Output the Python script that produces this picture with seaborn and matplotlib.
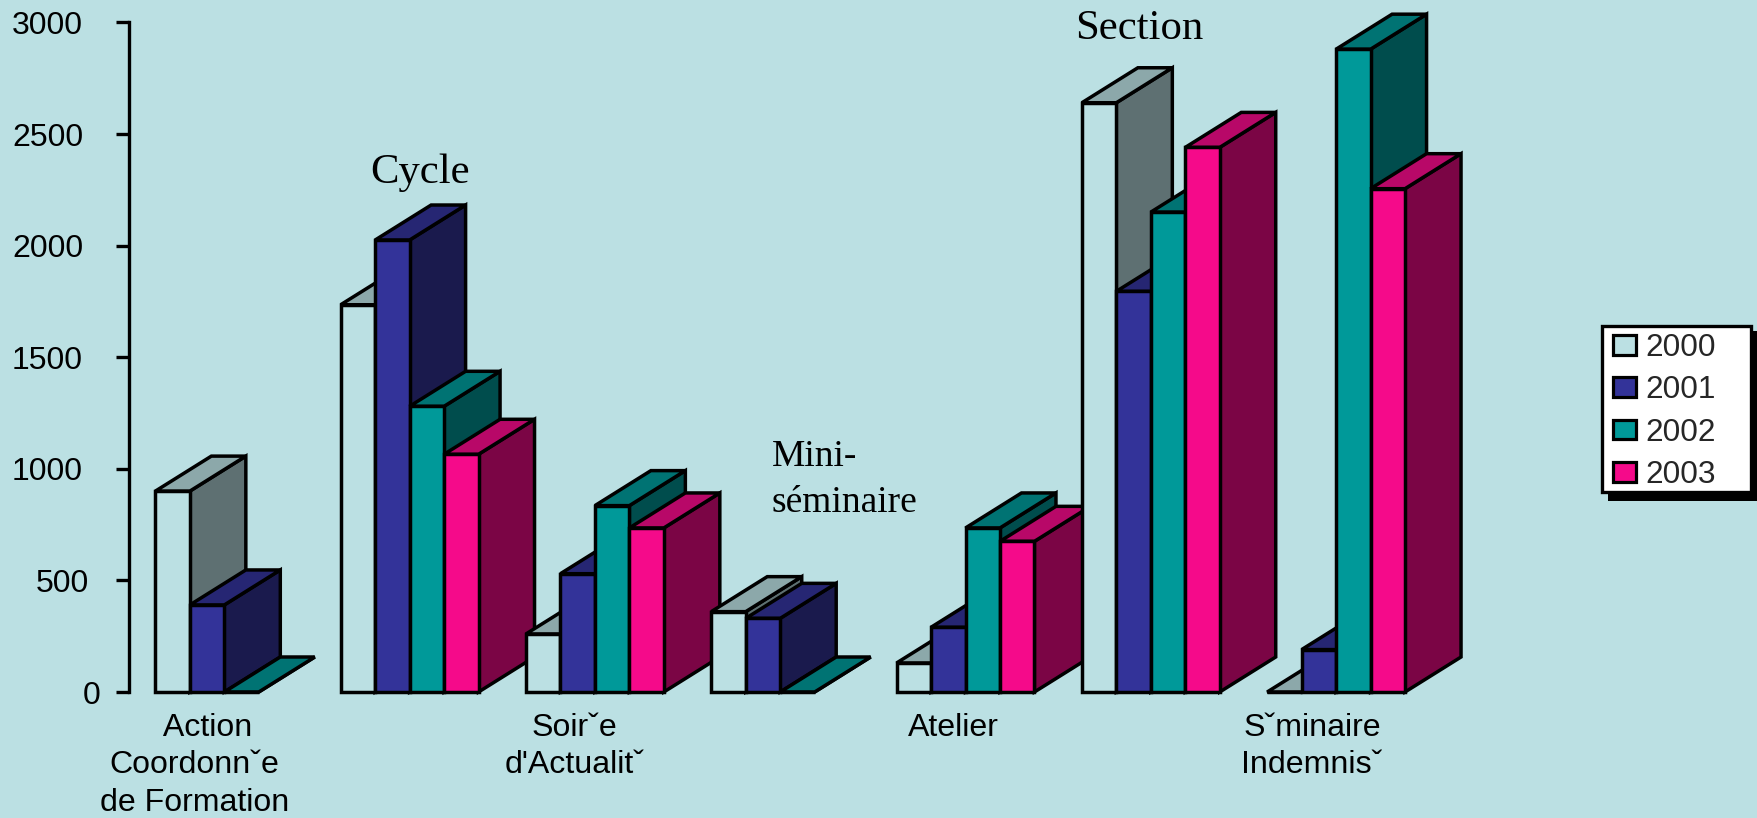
import matplotlib
matplotlib.use("Agg")
import matplotlib.pyplot as plt
import seaborn as sns
import numpy as np
import pandas as pd
from matplotlib.colors import to_rgb
from matplotlib.patches import Polygon, Patch, Rectangle

categories = ["Action Coordonnˇe de Formation", "Cycle", "Soirˇe d'Actualitˇ",
              "Mini-séminaire", "Atelier", "Section", "Sˇminaire Indemnisˇ"]
years = ["2000", "2001", "2002", "2003"]
v2000 = [900, 1735, 260, 360, 130, 2640, 0]
v2001 = [390, 2025, 530, 330, 290, 1795, 190]
v2002 = [0, 1280, 835, 0, 735, 2150, 2880]
v2003 = [np.nan, 1065, 735, np.nan, 675, 2440, 2255]
colors = ["#BBE0E3", "#333399", "#009999", "#F50A8A"]
shown_labels = [0, 2, 4, 6]
shown_text = ["   Action\nCoordonnˇe\nde Formation", "Soirˇe\nd'Actualitˇ",
              "Atelier", "Sˇminaire\nIndemnisˇ"]
label_shift_px = [-29.5, -20.5, -12.0, -24.0]

W, H = 1757, 818
BG = "#BBE0E3"
AX_L, AX_T, AX_B = 128.5, 22.4, 692
PITCH = 185.3
FIRST_CENTER = 224.3
DEPTH_X, DEPTH_Y = 56.0, 35.0
LW = 2.5

sns.set_theme(style="white")
plt.rcParams["font.family"] = ["Liberation Sans", "DejaVu Sans"]

df = pd.DataFrame({"category": categories, "2000": v2000, "2001": v2001,
                   "2002": v2002, "2003": v2003}).melt(
    id_vars="category", var_name="year", value_name="value")

fig = plt.figure(figsize=(W / 100, H / 100), dpi=100, facecolor=BG)
ax_w = 7 * PITCH
ax = fig.add_axes([AX_L / W, 1 - AX_B / H, ax_w / W, (AX_B - AX_T) / H])
ax.set_facecolor("none")

sns.barplot(data=df, x="category", y="value", hue="year", order=categories,
            hue_order=years, palette=colors, saturation=1, width=0.744,
            gap=0, dodge=True, edgecolor="black", linewidth=LW, ax=ax,
            legend=False)

x_left = (AX_L - FIRST_CENTER) / PITCH
ax.set_xlim(x_left, x_left + 7)
ax.set_ylim(0, 3000)
ax.set_xlabel("")
ax.set_ylabel("")

dx = DEPTH_X / PITCH
dy = DEPTH_Y / (AX_B - AX_T) * 3000


def shade(c, f):
    return tuple(f * k for k in to_rgb(c))


bars = []
for color, cont in zip(colors, ax.containers):
    for rect in cont.patches:
        if np.isnan(rect.get_height()):
            rect.set_visible(False)
            continue
        bars.append((rect.get_x(), rect, color))
bars.sort(key=lambda t: t[0])

for n, (x0, rect, color) in enumerate(bars):
    z = 3 + n * 0.01
    w, h = rect.get_width(), rect.get_height()
    x1 = x0 + w
    rect.set_zorder(z + 0.002)
    rect.set_clip_on(False)
    rect.set_joinstyle("miter")
    side = Polygon([(x1, 0), (x1 + dx, dy), (x1 + dx, h + dy), (x1, h)],
                   closed=True, facecolor=shade(color, 0.5), edgecolor="black",
                   linewidth=LW, zorder=z, clip_on=False, joinstyle="miter")
    top = Polygon([(x0, h), (x0 + dx, h + dy), (x1 + dx, h + dy), (x1, h)],
                  closed=True, facecolor=shade(color, 0.75), edgecolor="black",
                  linewidth=LW, zorder=z + 0.001, clip_on=False, joinstyle="miter")
    ax.add_patch(side)
    ax.add_patch(top)

for s in ["top", "right", "bottom"]:
    ax.spines[s].set_visible(False)
ax.spines["left"].set_visible(True)
ax.spines["left"].set_color("black")
ax.spines["left"].set_linewidth(2.4)
ax.spines["left"].set_zorder(2)

ax.set_xticks([i + s / PITCH for i, s in zip(shown_labels, label_shift_px)], shown_text)
ax.tick_params(axis="x", length=0, pad=15, labelsize=23.1, labelcolor="black")
plt.setp(ax.get_xticklabels(), linespacing=1.32)
ax.set_yticks([0, 500, 1000, 1500, 2000, 2500, 3000])
ax.tick_params(axis="y", left=True, length=9.7, width=2.4, color="black",
               labelsize=23, labelcolor="black")
for t, lab in zip(ax.yaxis.get_major_ticks(), ["0", "500", "1000", "1500", "2000", "2500", "3000"]):
    t.set_pad({1: 10.8, 3: 18.7, 4: 23.0}[len(lab)])
ax.grid(False)


def fx(px):
    return px / W


def fy(px):
    return 1 - px / H


serif = ["Liberation Serif", "DejaVu Serif"]
fig.text(fx(370), fy(182.5), "Cycle", family=serif, fontsize=30.8, color="black", va="baseline")
fig.text(fx(1075), fy(39), "Section", family=serif, fontsize=30.8, color="black", va="baseline")
fig.text(fx(771.5), fy(466), "Mini-", family=serif, fontsize=27, color="black", va="baseline")
fig.text(fx(771.5), fy(512), "séminaire", family=serif, fontsize=27, color="black", va="baseline")

ax.add_patch(Rectangle((1608 / W, 1 - 500.7 / H), 152 / W, 169.7 / H,
                       transform=fig.transFigure, facecolor="black", edgecolor="none",
                       clip_on=False, zorder=50))
ax.add_patch(Rectangle((1602 / W, 1 - 492 / H), 148.5 / W, 166 / H,
                       transform=fig.transFigure, facecolor="white", edgecolor="black",
                       linewidth=2.4, clip_on=False, zorder=51))

handles = [Patch(facecolor=c, edgecolor="black", linewidth=2.3, label=y)
           for c, y in zip(colors, years)]
leg = ax.legend(handles=handles, loc="upper left",
                bbox_to_anchor=(1613 / W, 1 - 333 / H),
                bbox_transform=fig.transFigure, borderaxespad=0, borderpad=0,
                fontsize=22.7, frameon=False,
                handlelength=0.72, handleheight=0.58, handletextpad=0.31,
                labelspacing=0.39)
leg.set_zorder(100)

fig.savefig("out.png", dpi=100, facecolor=BG)
